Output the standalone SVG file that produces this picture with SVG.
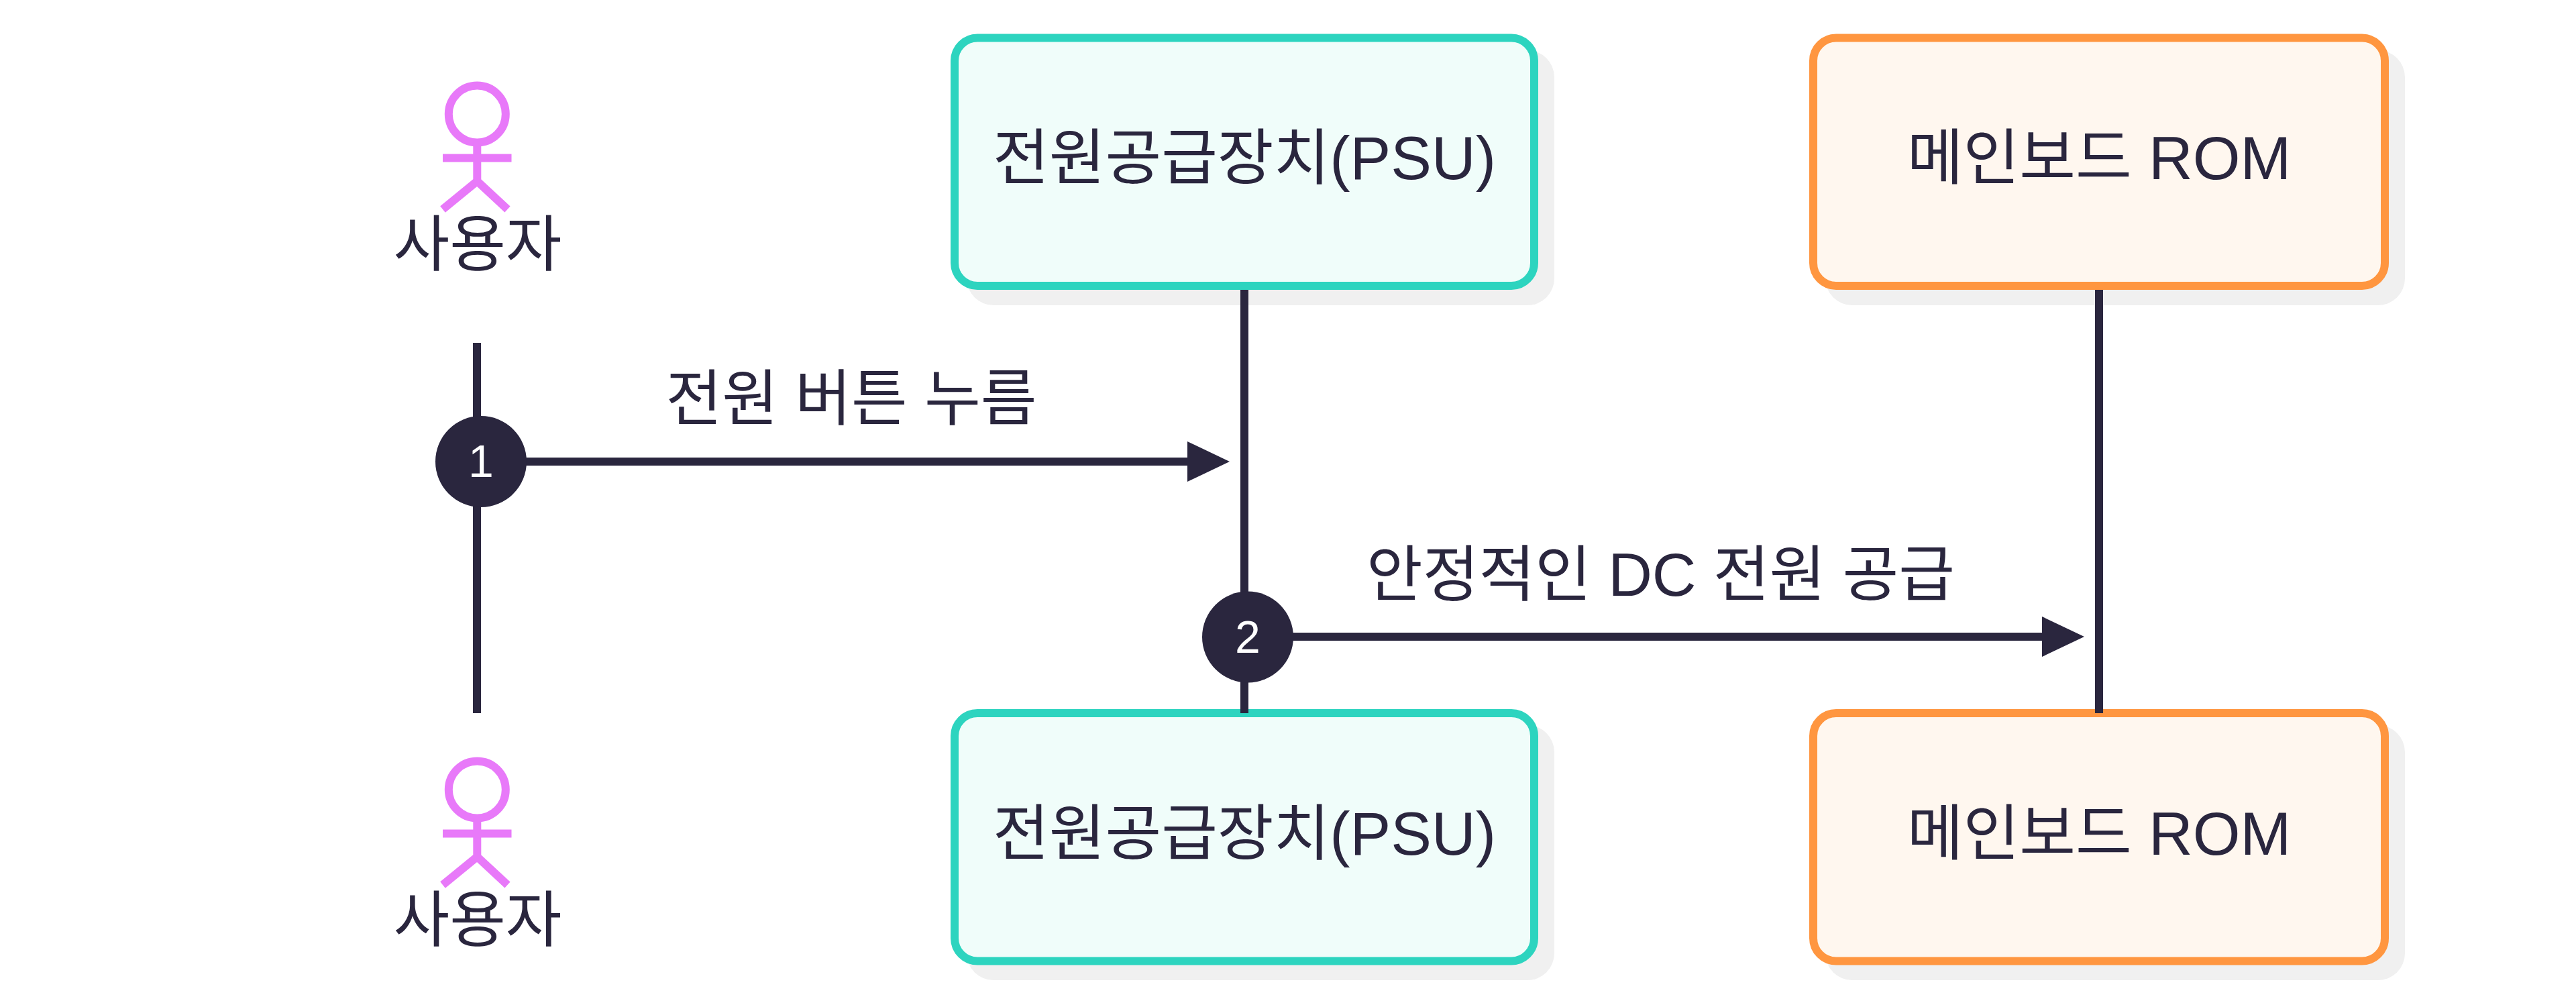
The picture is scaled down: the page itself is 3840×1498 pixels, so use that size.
<svg xmlns="http://www.w3.org/2000/svg" width="3840" height="1498" viewBox="0 0 3840 1498">
<style>
text{font-family:"Liberation Sans","Noto Sans CJK KR",sans-serif;fill:#2a263e;font-size:91px;text-anchor:middle}
.shadow{fill:#f0f0f0}
.psu{fill:#f0fdfa;stroke:#2dd4bf;stroke-width:12}
.rom{fill:#fff7ef;stroke:#ff9640;stroke-width:12}
.life{stroke:#2a263e;stroke-width:12;fill:none}
.msg{stroke:#2a263e;stroke-width:12;fill:none;marker-end:url(#arrow)}
.badge{fill:#2a263e}
.num{fill:#fff;font-size:68px}
.man{stroke:#e879f9;stroke-width:12;fill:none}
</style>
<defs>
<marker id="arrow" markerUnits="userSpaceOnUse" markerWidth="64" markerHeight="60" refX="1" refY="30" orient="auto"><path d="M0 0L63 30L0 60Z" fill="#2a263e"/></marker>
</defs>
<rect width="3840" height="1498" fill="#fff"/>
<g id="actor-top">
<circle class="man" cx="711.3" cy="170" r="42.5"/>
<path class="man" d="M711.3 212V268M660 235.5H762.5M660 312L711.3 270L756.5 312"/>
<text x="712" y="396">사용자</text>
</g>
<g id="actor-bottom">
<circle class="man" cx="711.3" cy="1177" r="42.5"/>
<path class="man" d="M711.3 1219V1275M660 1242.5H762.5M660 1319L711.3 1277L756.5 1319"/>
<text x="712" y="1403">사용자</text>
</g>
<g id="psu-top">
<rect class="shadow" x="1441" y="75" width="876" height="380" rx="40"/>
<rect class="psu" x="1423" y="56.5" width="864" height="369.5" rx="34"/>
<text x="1855" y="267">전원공급장치(PSU)</text>
</g>
<g id="rom-top">
<rect class="shadow" x="2721" y="75" width="864" height="380" rx="40"/>
<rect class="rom" x="2703" y="56.5" width="852" height="369.5" rx="34"/>
<text x="3129" y="267">메인보드 ROM</text>
</g>
<g id="psu-bottom">
<rect class="shadow" x="1441" y="1081" width="876" height="380" rx="40"/>
<rect class="psu" x="1423" y="1063" width="864" height="369.5" rx="34"/>
<text x="1855" y="1274">전원공급장치(PSU)</text>
</g>
<g id="rom-bottom">
<rect class="shadow" x="2721" y="1081" width="864" height="380" rx="40"/>
<rect class="rom" x="2703" y="1063" width="852" height="369.5" rx="34"/>
<text x="3129" y="1274">메인보드 ROM</text>
</g>
<g id="connectors">
<path class="life" d="M711 511V1063"/>
<path class="life" d="M1855 432V1063"/>
<path class="life" d="M3129 432V1063"/>
<path class="msg" d="M717 688H1771"/>
<path class="msg" d="M1860 949H3045"/>
</g>
<g id="label-1"><text x="1269" y="626">전원 버튼 누름</text></g>
<g id="label-2"><text x="2475.5" y="888">안정적인 DC 전원 공급</text></g>
<g id="badge-1"><circle class="badge" cx="717" cy="688" r="68"/><text class="num" x="717" y="711">1</text></g>
<g id="badge-2"><circle class="badge" cx="1860" cy="949.5" r="68"/><text class="num" x="1860" y="973">2</text></g>
</svg>
